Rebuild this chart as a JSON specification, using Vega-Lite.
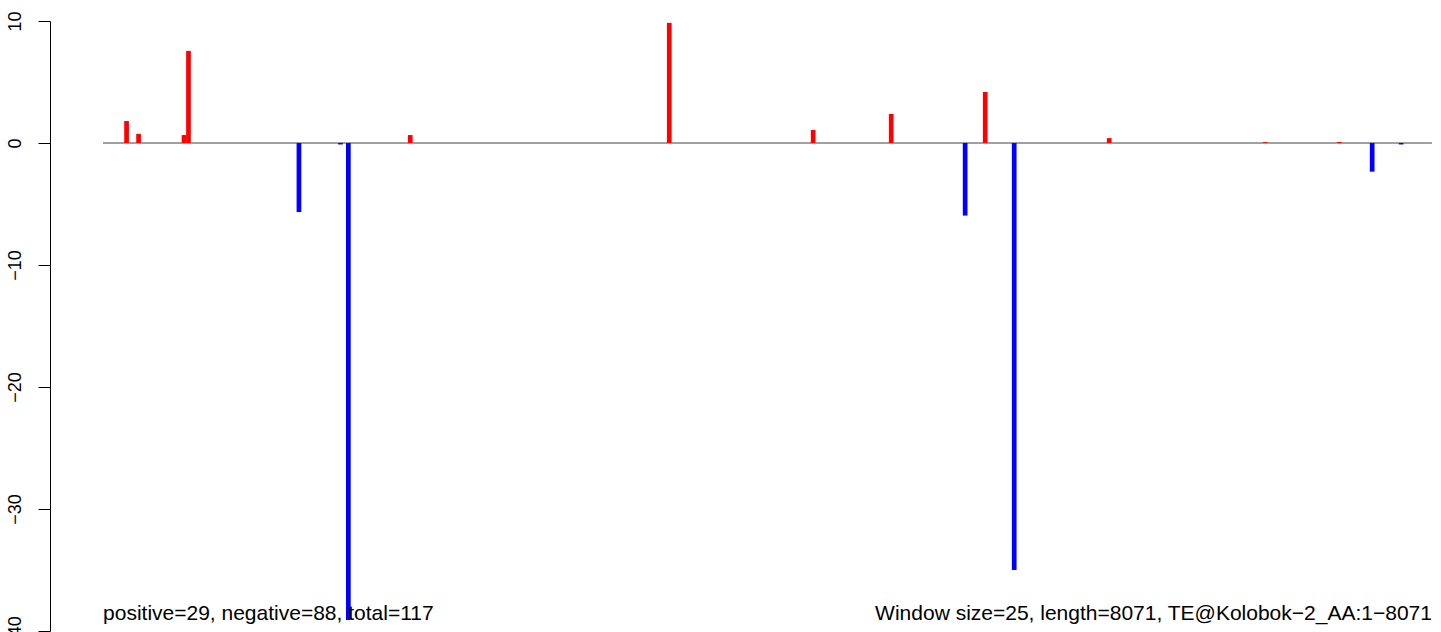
{
  "$schema": "https://vega.github.io/schema/vega-lite/v6.json",
  "width": 1391,
  "height": 610,
  "autosize": {"type": "none"},
  "padding": {"left": 50, "top": 21, "right": 0, "bottom": 1},
  "background": "white",
  "config": {"view": {"stroke": null}, "font": "Liberation Sans"},
  "datasets": {
    "bars": [
      {"pos": 143, "value": 1.8, "sign": "positive"},
      {"pos": 216, "value": 0.75, "sign": "positive"},
      {"pos": 492, "value": 0.65, "sign": "positive"},
      {"pos": 519, "value": 7.55, "sign": "positive"},
      {"pos": 1190, "value": -5.66, "sign": "negative"},
      {"pos": 1442, "value": -0.12, "sign": "negative"},
      {"pos": 1490, "value": -39.1, "sign": "negative"},
      {"pos": 1866, "value": 0.65, "sign": "positive"},
      {"pos": 3439, "value": 9.85, "sign": "positive"},
      {"pos": 4313, "value": 1.07, "sign": "positive"},
      {"pos": 4787, "value": 2.38, "sign": "positive"},
      {"pos": 5236, "value": -5.95, "sign": "negative"},
      {"pos": 5358, "value": 4.18, "sign": "positive"},
      {"pos": 5534, "value": -35.0, "sign": "negative"},
      {"pos": 6111, "value": 0.4, "sign": "positive"},
      {"pos": 7058, "value": 0.07, "sign": "positive"},
      {"pos": 7508, "value": 0.08, "sign": "positive"},
      {"pos": 7708, "value": -2.35, "sign": "negative"},
      {"pos": 7884, "value": -0.12, "sign": "negative"}
    ],
    "baseline": [{"from": 0, "to": 8071, "y": 0}],
    "notes": [
      {"x": 0, "y": -39.1, "side": "left", "label": "positive=29, negative=88, total=117"},
      {"x": 8071, "y": -39.1, "side": "right", "label": "Window size=25, length=8071, TE@Kolobok−2_AA:1−8071"}
    ]
  },
  "layer": [
    {
      "data": {"name": "baseline"},
      "mark": {"type": "rule", "color": "#A0A0A0", "strokeWidth": 2},
      "encoding": {
        "x": {"field": "from", "type": "quantitative", "scale": {"domain": [-322, 8126], "nice": false, "zero": false, "padding": 0}, "axis": null},
        "x2": {"field": "to"},
        "y": {"field": "y", "type": "quantitative"}
      }
    },
    {
      "data": {"name": "bars"},
      "mark": {"type": "bar", "width": 4.7},
      "encoding": {
        "x": {"field": "pos", "type": "quantitative", "axis": null},
        "y": {
          "field": "value",
          "type": "quantitative",
          "scale": {"domain": [-40, 10], "nice": false, "zero": false, "padding": 0},
          "axis": {
            "title": null,
            "values": [-40, -30, -20, -10, 0, 10],
            "grid": false,
            "domainColor": "black",
            "tickColor": "black",
            "tickSize": 12,
            "labelAngle": 270,
            "labelAlign": "center",
            "labelBaseline": "bottom",
            "labelFontSize": 18,
            "labelColor": "black",
            "labelPadding": 14,
            "labelFlush": false,
            "labelOverlap": false,
            "labelBound": false
          }
        },
        "y2": {"datum": 0},
        "color": {"field": "sign", "type": "nominal", "scale": {"domain": ["positive", "negative"], "range": ["#FF0000", "#0000FF"]}, "legend": null}
      }
    },
    {
      "data": {"name": "notes"},
      "transform": [{"filter": "datum.side === 'left'"}],
      "mark": {"type": "text", "align": "left", "baseline": "alphabetic", "fontSize": 21, "color": "black"},
      "encoding": {
        "x": {"field": "x", "type": "quantitative"},
        "y": {"field": "y", "type": "quantitative"},
        "text": {"field": "label"}
      }
    },
    {
      "data": {"name": "notes"},
      "transform": [{"filter": "datum.side === 'right'"}],
      "mark": {"type": "text", "align": "right", "baseline": "alphabetic", "fontSize": 21, "color": "black"},
      "encoding": {
        "x": {"field": "x", "type": "quantitative"},
        "y": {"field": "y", "type": "quantitative"},
        "text": {"field": "label"}
      }
    }
  ]
}
